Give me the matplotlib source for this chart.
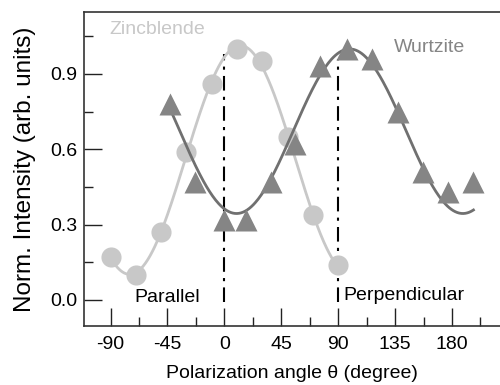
import numpy as np
import matplotlib
matplotlib.use("Agg")
import matplotlib.pyplot as plt
from matplotlib.ticker import MultipleLocator

plt.rcParams['font.family'] = ['Liberation Sans', 'DejaVu Sans']
plt.rcParams['axes.unicode_minus'] = False

# Zincblende (circles)
zb_angle = [-90, -70, -50, -30, -10, 10, 30, 50, 70, 90]
zb_int = [0.17, 0.10, 0.27, 0.59, 0.86, 1.00, 0.95, 0.65, 0.34, 0.14]

# Wurtzite (triangles)
wz_angle = [-43, -23, 0, 17, 37, 56, 76, 97, 117, 137, 157, 177, 197]
wz_int = [0.78, 0.47, 0.32, 0.32, 0.47, 0.62, 0.93, 1.00, 0.96, 0.75, 0.51, 0.43, 0.47]

xticks = [-90, -45, 0, 45, 90, 135, 180]
yticks = [0.0, 0.3, 0.6, 0.9]
guide_angles = [0, 90]
guide_tops = [0.98, 0.96]

ZB_COLOR = '#c8c8c8'
WZ_COLOR = '#858585'
WZ_LINE = '#707070'


def fit_sine(x, y):
    """least squares a + c*cos(kx) + s*sin(kx), period searched on a grid"""
    x = np.asarray(x, float)
    y = np.asarray(y, float)
    best = None
    for P in np.arange(140, 220, 0.5):
        k = 2 * np.pi / P
        A = np.column_stack([np.ones_like(x), np.cos(k * x), np.sin(k * x)])
        coef, res, *_ = np.linalg.lstsq(A, y, rcond=None)
        err = np.sum((A @ coef - y) ** 2)
        if best is None or err < best[0]:
            best = (err, k, coef)
    _, k, coef = best
    return lambda t: coef[0] + coef[1] * np.cos(k * t) + coef[2] * np.sin(k * t)


fig = plt.figure(figsize=(5, 3.85), dpi=100)
ax = fig.add_axes([0.168, 0.153, 0.832, 0.816])

f_zb = fit_sine(zb_angle, zb_int)
t_zb = np.linspace(zb_angle[0], zb_angle[-1], 300)
ax.plot(t_zb, f_zb(t_zb), color=ZB_COLOR, lw=2, zorder=2)

f_wz = fit_sine(wz_angle, wz_int)
t_wz = np.linspace(wz_angle[0], wz_angle[-1], 300)
ax.plot(t_wz, f_wz(t_wz), color=WZ_LINE, lw=2, zorder=4)

ax.plot(zb_angle, zb_int, 'o', ms=14.5, color=ZB_COLOR, mec='none', zorder=3)
ax.plot(wz_angle, wz_int, '^', ms=16, color=WZ_COLOR, mec='none', zorder=5)

for a, top in zip(guide_angles, guide_tops):
    ax.plot([a, a], [-0.01, top], color='black', lw=1.5,
            linestyle=(0, (7, 3, 1.5, 3)), zorder=1)

ax.text(-91, 1.076, 'Zincblende', color=ZB_COLOR, fontsize=14, va='center')
ax.text(134, 1.004, 'Wurtzite', color=WZ_COLOR, fontsize=14, va='center')
ax.text(-71, 0.008, 'Parallel', color='black', fontsize=14, va='center')
ax.text(94.5, 0.016, 'Perpendicular', color='black', fontsize=14, va='center')

ax.set_xlim(-111, 218)
ax.set_ylim(-0.104, 1.147)
ax.set_xticks(xticks)
ax.set_yticks(yticks)
ax.set_yticklabels([f'{v:.1f}' for v in yticks])
ax.xaxis.set_minor_locator(MultipleLocator(22.5))
ax.yaxis.set_minor_locator(MultipleLocator(0.15))
ax.tick_params(which='both', direction='in', labelsize=14, color='#222222',
               top=False, right=False)
ax.tick_params(which='major', length=13, width=1)
ax.tick_params(which='minor', length=6.5, width=1)
ax.tick_params(axis='x', pad=7)
ax.tick_params(axis='y', pad=5)

for s in ['left', 'bottom', 'top']:
    ax.spines[s].set_color('#333333')
    ax.spines[s].set_linewidth(1.2)
ax.spines['right'].set_visible(False)

ax.set_xlabel('Polarization angle θ (degree)', fontsize=14, labelpad=9)
ax.set_ylabel('Norm. Intensity (arb. units)', fontsize=17.5, labelpad=10)

fig.savefig('out.png', dpi=100)
